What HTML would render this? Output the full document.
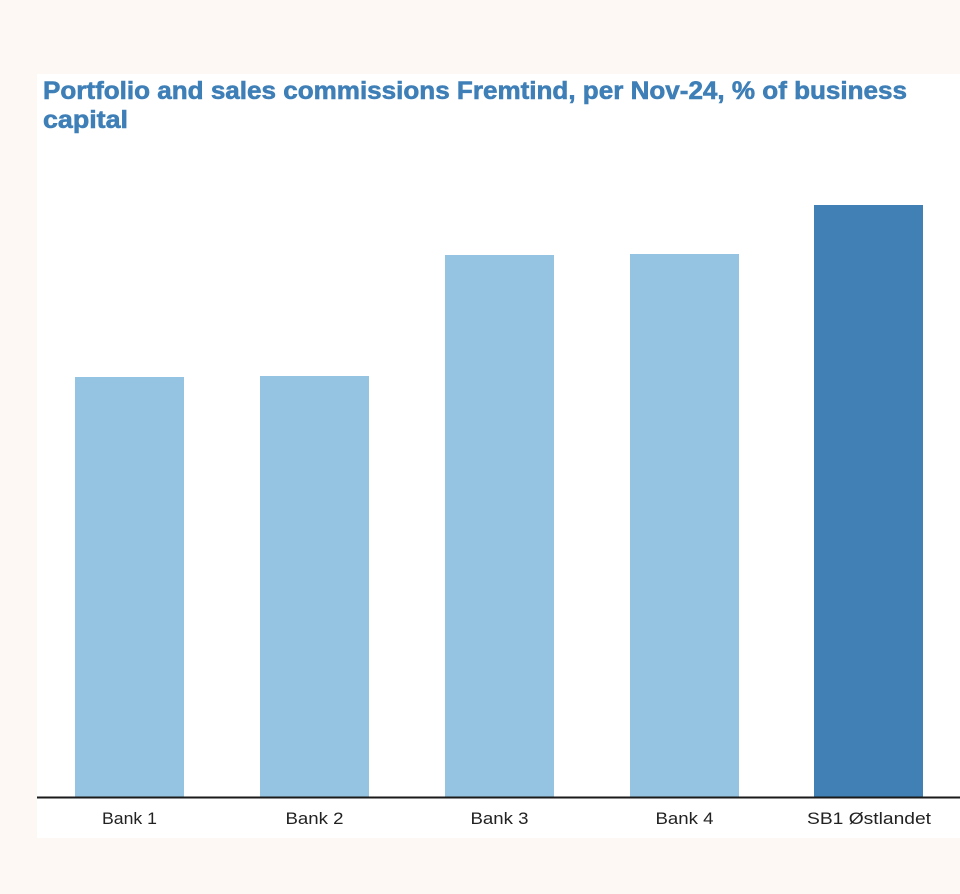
<!DOCTYPE html>
<html>
<head>
<meta charset="utf-8">
<style>
  html,body{margin:0;padding:0;background:#fdf8f4;}
  svg{display:block;}
</style>
</head>
<body>
<svg width="960" height="894" viewBox="0 0 960 894" xmlns="http://www.w3.org/2000/svg">
  <rect x="0" y="0" width="960" height="894" fill="#fdf8f4"/>
  <rect x="37" y="74" width="923" height="764" fill="#ffffff"/>
  <g font-family="Liberation Sans, sans-serif" font-weight="bold" font-size="25" fill="#3e7fb7" stroke="#3e7fb7" stroke-width="0.6">
    <text x="43" y="99" textLength="864" lengthAdjust="spacingAndGlyphs">Portfolio and sales commissions Fremtind, per Nov-24, % of business</text>
    <text x="43" y="128" textLength="85" lengthAdjust="spacingAndGlyphs">capital</text>
  </g>
  <rect x="75" y="377" width="109" height="421" fill="#95c4e2"/>
  <rect x="260" y="376" width="109" height="422" fill="#95c4e2"/>
  <rect x="445" y="255" width="109" height="543" fill="#95c4e2"/>
  <rect x="630" y="254" width="109" height="544" fill="#95c4e2"/>
  <rect x="814" y="205" width="109" height="593" fill="#4080b4"/>
  <rect x="37" y="796.5" width="923" height="2" fill="#1a1a1a"/>
  <g font-family="Liberation Sans, sans-serif" font-size="17" fill="#222222" text-anchor="middle">
    <text x="129.5" y="824" textLength="55" lengthAdjust="spacingAndGlyphs">Bank 1</text>
    <text x="314.5" y="824" textLength="58" lengthAdjust="spacingAndGlyphs">Bank 2</text>
    <text x="499.5" y="824" textLength="58" lengthAdjust="spacingAndGlyphs">Bank 3</text>
    <text x="684.5" y="824" textLength="58" lengthAdjust="spacingAndGlyphs">Bank 4</text>
    <text x="869" y="824" textLength="124" lengthAdjust="spacingAndGlyphs">SB1 Østlandet</text>
  </g>
</svg>
</body>
</html>
